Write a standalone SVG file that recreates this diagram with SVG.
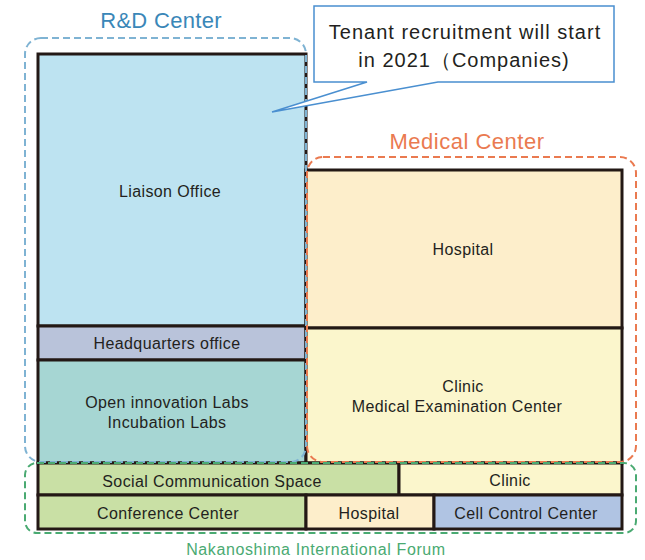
<svg xmlns="http://www.w3.org/2000/svg" width="645" height="560" viewBox="0 0 645 560">
<style>
.n{stroke:#231815;stroke-width:3}
.t{font-family:"Liberation Sans",Arial,sans-serif;font-size:16px;letter-spacing:0.4px;fill:#231f20;text-anchor:middle}
.g{fill:none;stroke-width:2;stroke-dasharray:7 4}
.lbl{font-family:"Liberation Sans",Arial,sans-serif;text-anchor:middle}
</style>
<rect width="645" height="560" fill="#fff"/>
<g id="liaison"><rect class="n" x="38" y="54" width="268" height="272" fill="#bde3f1"/><text class="t" x="170" y="197">Liaison Office</text></g>
<g id="headquarters"><rect class="n" x="38" y="326" width="268" height="34" fill="#b9c3da"/><text class="t" x="167" y="349">Headquarters office</text></g>
<g id="openlabs"><rect class="n" x="38" y="360" width="268" height="103" fill="#a6d6d3"/><text class="t" x="167" y="408">Open innovation Labs</text><text class="t" x="167" y="428">Incubation Labs</text></g>
<g id="hospital"><rect class="n" x="306" y="170" width="316" height="158" fill="#fdeecb"/><text class="t" x="463" y="255">Hospital</text></g>
<g id="clinic-mec"><rect class="n" x="306" y="328" width="316" height="135" fill="#fbf6cc"/><text class="t" x="463" y="392">Clinic</text><text class="t" x="457" y="412">Medical Examination Center</text></g>
<g id="social"><rect class="n" x="38" y="463" width="361" height="32" fill="#c9e0a5"/><text class="t" x="212" y="487">Social Communication Space</text></g>
<g id="clinic-small"><rect class="n" x="399" y="463" width="223" height="32" fill="#fbf6cc"/><text class="t" x="510" y="486">Clinic</text></g>
<g id="conference"><rect class="n" x="38" y="495" width="268" height="34" fill="#c9e0a5"/><text class="t" x="168" y="519">Conference Center</text></g>
<g id="hospital-small"><rect class="n" x="306" y="495" width="128" height="34" fill="#fdeecb"/><text class="t" x="369" y="519">Hospital</text></g>
<g id="cellcontrol"><rect class="n" x="434" y="495" width="188" height="34" fill="#b0c4e3"/><text class="t" x="526" y="519">Cell Control Center</text></g>
<g id="rd-center"><rect class="g" x="25" y="38" width="281" height="424" rx="16" stroke="#7fb3d3"/><text class="lbl" x="161" y="28" font-size="22" letter-spacing="0.3" fill="#3a87b8">R&amp;D Center</text></g>
<g id="medical-center"><rect class="g" x="307" y="157" width="329" height="305" rx="16" stroke="#ea7a50"/><text class="lbl" x="467" y="149" font-size="22" letter-spacing="0.5" fill="#ea7a50">Medical Center</text></g>
<g id="nakanoshima"><rect class="g" x="25" y="463" width="611" height="70" rx="12" stroke="#4aaa72"/><text class="lbl" x="316" y="555" font-size="16" letter-spacing="0.6" fill="#4aaa72">Nakanoshima International Forum</text></g>
<g id="callout"><path d="M314,6 H614 V82 H438 L272,112 L367,82 H314 Z" fill="#fff" stroke="#4a8fd0" stroke-width="1.5"/><text class="lbl" x="465" y="39" font-size="20" letter-spacing="1" fill="#231f20">Tenant recruitment will start</text><text class="lbl" x="464" y="67" font-size="20" letter-spacing="1" fill="#231f20">in 2021（Companies)</text></g>
<g id="connectors"></g>
</svg>
